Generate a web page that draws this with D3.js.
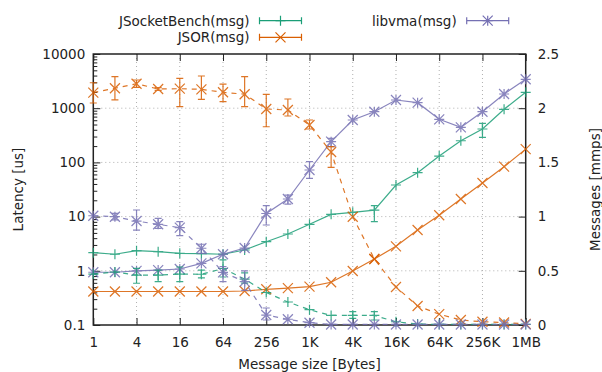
<!DOCTYPE html>
<html lang="en">
<head>
<meta charset="utf-8">
<title>Latency vs message size</title>
<script src="https://d3js.org/d3.v7.min.js"></script>
<style>
  body { margin: 0; background: #fff; }
  text { font-family: "DejaVu Sans", sans-serif; font-size: 13.5px; fill: #222; }
</style>
</head>
<body>
<div id="viz"></div>
<script type="text/javascript">

// message sizes (bytes)
var sizes = [1, 2, 4, 8, 16, 32, 64, 128, 256, 512, 1024, 2048, 4096, 8192, 16384, 32768, 65536, 131072, 262144, 524288, 1048576];
var xTickValues = [1, 4, 16, 64, 256, 1024, 4096, 16384, 65536, 262144, 1048576];
var xTickLabels = ["1", "4", "16", "64", "256", "1K", "4K", "16K", "64K", "256K", "1MB"];
var yTickValues = [0.1, 1, 10, 100, 1000, 10000];
var y2TickValues = [0, 0.5, 1, 1.5, 2, 2.5];

// latency [us] (left axis, solid)
var jsbLat = [2.16, 2.02, 2.35, 2.25, 2.10, 2.07, 2.02, 2.42, 3.44, 4.77, 7.21, 11.0, 12.0, 13.2, 38.3, 64.6, 131, 251, 413, 955, 1965];
var jsorLat = [0.415, 0.415, 0.415, 0.415, 0.415, 0.415, 0.415, 0.424, 0.456, 0.48, 0.509, 0.614, 0.99, 1.65, 2.83, 5.66, 10.6, 21.1, 41.7, 83.4, 176];
var vmaLat = [0.94, 0.94, 1.0, 1.03, 1.08, 1.37, 2.02, 2.63, 11.4, 21.1, 72.4, 241, 606, 861, 1417, 1264, 624, 444, 861, 1828, 3414];

// messages [mmps] (right axis, dashed)
var jsbMsg = [0.47, 0.489, 0.461, 0.461, 0.47, 0.468, 0.521, 0.424, 0.30, 0.212, 0.141, 0.088, 0.088, 0.088, 0.03, 0.009, 0.005, 0.005, 0.005, 0.005, 0.005];
var jsorMsg = [2.143, 2.184, 2.226, 2.177, 2.180, 2.174, 2.147, 2.129, 1.993, 1.983, 1.845, 1.596, 0.999, 0.609, 0.351, 0.175, 0.10, 0.046, 0.030, 0.023, 0.01];
var vmaMsg = [1.008, 0.999, 0.959, 0.929, 0.898, 0.708, 0.486, 0.40, 0.092, 0.053, 0.021, 0.005, 0.005, 0.005, 0.005, 0.005, 0.005, 0.005, 0.005, 0.005, 0.005];

// error bars [low, high], null = none drawn
var jsbLatErr = [null, null, null, null, null, null, null, null, null, null, null, null, null, [8.05, 15.9], null, null, null, null, [290, 526], null, null];
var vmaLatErr = [null, null, null, null, null, null, null, null, [7.0, 16.0], [17, 25], [50.9, 103], [195, 278], null, null, null, null, null, null, null, null, null];
var jsorLatErr = [];
var jsbMsgErr = [null, null, [0.385, 0.523], [0.40, 0.507], [0.40, 0.535], [0.434, 0.507], [0.443, 0.60], [0.387, 0.48], null, null, null, null, [0.062, 0.123], [0.046, 0.123], null, null, null, null, null, null, null];
var jsorMsgErr = [[2.048, 2.235], [2.076, 2.291], [2.193, 2.260], [2.165, 2.19], [2.014, 2.276], [2.082, 2.297], [2.060, 2.223], [2.014, 2.291], [1.829, 2.128], [1.928, 2.085], [1.808, 1.891], [1.455, 1.645], null, null, null, null, null, null, null, null, null];
var vmaMsgErr = [null, [0.97, 1.03], [0.876, 1.061], [0.892, 0.984], [0.824, 0.953], [0.661, 0.745], [0.40, 0.538], [0.32, 0.5], [0.046, 0.157], null, null, null, null, null, null, null, null, null, null, null, null];

var green = "#1b9e77", orange = "#d95f02", purple = "#7570b3";

var w = 602, h = 372;
var mLeft = 93.3, mRight = 525.7, mTop = 54, mBottom = 325;

var svg = d3.select("#viz").append("svg")
  .attr("width", w)
  .attr("height", h);

var x = d3.scaleLog().base(2).domain([1, 1048576]).range([mLeft, mRight]);
var y = d3.scaleLog().domain([0.1, 10000]).range([mBottom, mTop]);
var y2 = d3.scaleLinear().domain([0, 2.5]).range([mBottom, mTop]);

// grid
var grid = svg.append("g").attr("stroke", "#b0b0b0").attr("stroke-width", 1).attr("stroke-dasharray", "1,3");
xTickValues.slice(1, -1).forEach(function(v) {
  grid.append("line").attr("x1", x(v)).attr("x2", x(v)).attr("y1", mTop).attr("y2", mBottom);
});
yTickValues.slice(1, -1).forEach(function(v) {
  grid.append("line").attr("x1", mLeft).attr("x2", mRight).attr("y1", y(v)).attr("y2", y(v));
});

// axes (ticks pointing inward)
svg.append("g").attr("transform", "translate(0," + mBottom + ")")
  .call(d3.axisBottom(x).tickValues(xTickValues).tickFormat(function(d, i) { return xTickLabels[i]; })
    .tickSizeInner(-7).tickSizeOuter(0).tickPadding(12));
svg.append("g").attr("transform", "translate(0," + mTop + ")")
  .call(d3.axisTop(x).tickValues(xTickValues).tickFormat("").tickSizeInner(-7).tickSizeOuter(0));

svg.append("g").attr("transform", "translate(" + mLeft + ",0)")
  .call(d3.axisLeft(y).tickValues(yTickValues).tickFormat(d3.format("~g"))
    .tickSizeInner(-7).tickSizeOuter(0).tickPadding(8));
var minor = [];
yTickValues.slice(0, -1).forEach(function(v) {
  for (var k = 2; k <= 9; k++) minor.push(v * k);
});
svg.append("g").attr("transform", "translate(" + mLeft + ",0)")
  .call(d3.axisLeft(y).tickValues(minor).tickFormat("").tickSizeInner(-4).tickSizeOuter(0));

svg.append("g").attr("transform", "translate(" + mRight + ",0)")
  .call(d3.axisRight(y2).tickValues(y2TickValues).tickFormat(d3.format("~g"))
    .tickSizeInner(-7).tickSizeOuter(0).tickPadding(12));

svg.selectAll(".domain").remove();
svg.selectAll(".tick line").attr("stroke", "#222");
svg.selectAll(".tick text").attr("font-size", "13.5px").attr("font-family", "DejaVu Sans").attr("fill", "#222");

// border
svg.append("rect")
  .attr("x", mLeft).attr("y", mTop)
  .attr("width", mRight - mLeft).attr("height", mBottom - mTop)
  .attr("fill", "none").attr("stroke", "#222").attr("stroke-width", 1.5);

// markers
function marker(g, type, cx, cy, color) {
  var s = 5;
  var p = "";
  if (type == "plus" || type == "star") p += "M" + (cx - s) + "," + cy + "H" + (cx + s) + "M" + cx + "," + (cy - s) + "V" + (cy + s);
  if (type == "cross" || type == "star") p += "M" + (cx - s) + "," + (cy - s) + "L" + (cx + s) + "," + (cy + s) + "M" + (cx - s) + "," + (cy + s) + "L" + (cx + s) + "," + (cy - s);
  g.append("path").attr("d", p).attr("stroke", color).attr("stroke-width", 1.2).attr("fill", "none");
}

function errbar(g, cx, y0, y1, color) {
  var c = 3.5;
  g.append("path")
    .attr("d", "M" + cx + "," + y0 + "V" + y1 + "M" + (cx - c) + "," + y0 + "H" + (cx + c) + "M" + (cx - c) + "," + y1 + "H" + (cx + c))
    .attr("stroke", color).attr("stroke-width", 1.2).attr("fill", "none");
}

function series(vals, errs, scale, color, type, dashed) {
  var g = svg.append("g").attr("opacity", 0.85);
  var line = d3.line()
    .x(function(d, i) { return x(sizes[i]); })
    .y(function(d) { return scale(d); });
  g.append("path")
    .datum(vals)
    .attr("d", line)
    .attr("fill", "none")
    .attr("stroke", color)
    .attr("stroke-width", 1.2)
    .attr("stroke-dasharray", dashed ? "5,5" : null);
  vals.forEach(function(v, i) {
    if (errs[i]) errbar(g, x(sizes[i]), scale(errs[i][0]), scale(errs[i][1]), color);
    marker(g, type, x(sizes[i]), scale(v), color);
  });
}

series(jsbLat, jsbLatErr, y, green, "plus", false);
series(jsorLat, jsorLatErr, y, orange, "cross", false);
series(vmaLat, vmaLatErr, y, purple, "star", false);
series(jsbMsg, jsbMsgErr, y2, green, "plus", true);
series(jsorMsg, jsorMsgErr, y2, orange, "cross", true);
series(vmaMsg, vmaMsgErr, y2, purple, "star", true);

// legend
var legend = [
  {name: "JSocketBench(msg)", color: green, type: "plus", tx: 249.5, ty: 20.7},
  {name: "JSOR(msg)", color: orange, type: "cross", tx: 249.5, ty: 37.3},
  {name: "libvma(msg)", color: purple, type: "star", tx: 456.7, ty: 20.7}
];
legend.forEach(function(d) {
  var g = svg.append("g");
  g.append("text").attr("x", d.tx).attr("y", d.ty).attr("dy", "0.36em")
    .attr("text-anchor", "end").text(d.name);
  var x0 = d.tx + 10, x1 = d.tx + 52;
  g.append("path")
    .attr("d", "M" + x0 + "," + d.ty + "H" + x1 + "M" + x0 + "," + (d.ty - 3.5) + "V" + (d.ty + 3.5) + "M" + x1 + "," + (d.ty - 3.5) + "V" + (d.ty + 3.5))
    .attr("stroke", d.color).attr("stroke-width", 1.2).attr("fill", "none");
  marker(g, d.type, (x0 + x1) / 2, d.ty, d.color);
});

// axis titles
svg.append("text")
  .attr("transform", "translate(18," + ((mTop + mBottom) / 2) + ") rotate(-90)")
  .attr("text-anchor", "middle").attr("dy", "0.36em")
  .text("Latency [us]");
svg.append("text")
  .attr("transform", "translate(595," + ((mTop + mBottom) / 2) + ") rotate(-90)")
  .attr("text-anchor", "middle").attr("dy", "0.36em")
  .text("Messages [mmps]");
svg.append("text")
  .attr("x", (mLeft + mRight) / 2).attr("y", 369)
  .attr("text-anchor", "middle")
  .text("Message size [Bytes]");

</script>
</body>
</html>
